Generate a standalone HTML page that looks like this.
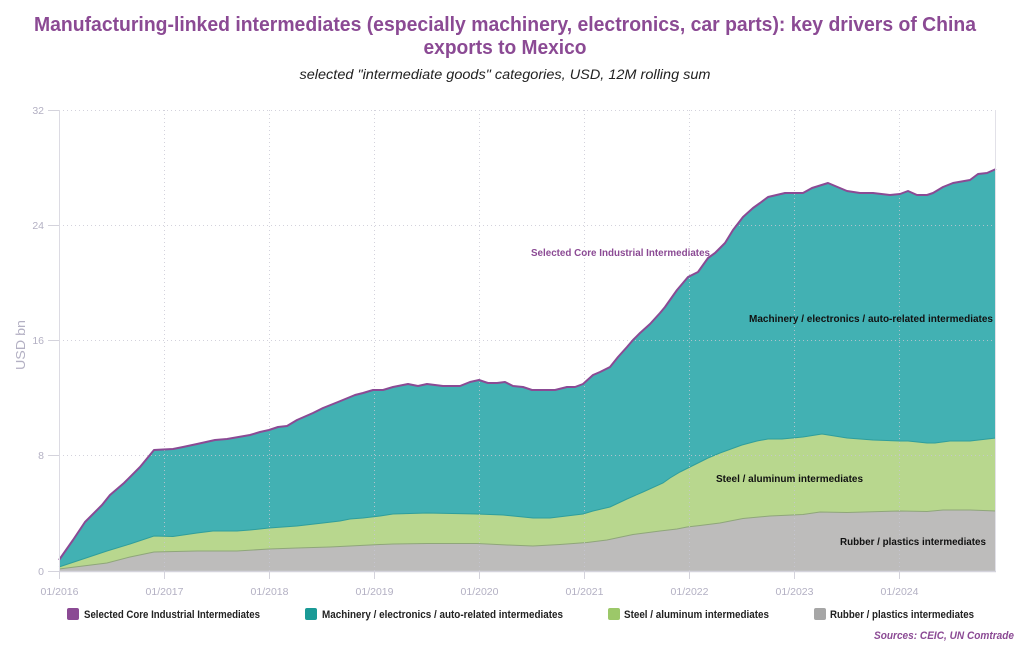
<!DOCTYPE html>
<html>
<head>
<meta charset="utf-8">
<style>
html,body{margin:0;padding:0;background:#fff;}
svg{display:block;}
text{font-family:"Liberation Sans",sans-serif;}
</style>
</head>
<body>
<svg width="1024" height="652" viewBox="0 0 1024 652" xmlns="http://www.w3.org/2000/svg">
<rect width="1024" height="652" fill="#fff"/>

<!-- Titles -->
<text x="505" y="31" text-anchor="middle" font-size="20" font-weight="bold" fill="#8b4a94" textLength="942" lengthAdjust="spacingAndGlyphs">Manufacturing-linked intermediates (especially machinery, electronics, car parts): key drivers of China</text>
<text x="505" y="54" text-anchor="middle" font-size="20" font-weight="bold" fill="#8b4a94" textLength="163" lengthAdjust="spacingAndGlyphs">exports to Mexico</text>
<text x="505" y="79" text-anchor="middle" font-size="14" font-style="italic" fill="#222" textLength="411" lengthAdjust="spacingAndGlyphs">selected "intermediate goods" categories, USD, 12M rolling sum</text>

<!-- Areas -->
<polygon fill="#42b1b3" points="59,560 73,540 85,522 102,505 110,495 124,483 140,467 154,450 163,449.5 173,449 183,447 197,444 215,440 227,439 250,435 260,432 269,430 278,427 287,426 297,420 313,413 323,408 338,402 355,395 363,393 373,390 383,390 393,387 408,384 418,386 427,384 443,386 460,386 470,382 479,380 488,383 497,383 505,382 513,386 523,387 532,390 555,390 567,387 575,387 583,384 593,375 600,372 610,367 618,357 627,347 633,340 640,333 650,324 660,313 665,307 677,290 688,277 698,272 708,258 715,253 725,243 733,230 743,217 753,208 760,203 768,197 785,193 803,193 812,188 828,183 847,191 860,193 873,193 890,195 900,194 908,191 917,195 927,195 933,193 943,187 953,183 970,180 978,174 987,173 996,169 996,571 59,571"/>
<polygon fill="#b8d78e" points="59,567 107,551 130,544 154,536 173,536.5 197,533 213,531 237,531 250,530 269,528 297,526 323,523 340,521 350,519 363,518 380,516 393,514 427,513 477,514 503,515 533,518 550,518 583,514 593,511 610,507 627,499 643,492 663,483 670,478 680,472 690,467 698,463 708,458 720,453 742,445 757,441 768,439 782,439 803,437 822,434 847,438 873,440 900,441 908,441 927,443 935,443 950,441 970,441 996,438 996,571 59,571"/>
<polygon fill="#bdbcbb" points="59,569 107,563 130,557 154,552 197,551 237,551 269,549 297,548 330,547 350,546 380,544.5 393,544 427,543.5 477,543.5 507,545 533,546 560,544.5 587,542.5 607,540 633,534.5 660,531 677,529 687,527 700,525.5 720,523 743,518.5 770,516 803,514.5 820,512 847,512.5 900,511 927,511.5 943,510 970,510 996,511 996,571 59,571"/>

<!-- Boundary lines -->
<polyline fill="none" stroke="#2f9e9c" stroke-width="1" points="59,567 107,551 130,544 154,536 173,536.5 197,533 213,531 237,531 250,530 269,528 297,526 323,523 340,521 350,519 363,518 380,516 393,514 427,513 477,514 503,515 533,518 550,518 583,514 593,511 610,507 627,499 643,492 663,483 670,478 680,472 690,467 698,463 708,458 720,453 742,445 757,441 768,439 782,439 803,437 822,434 847,438 873,440 900,441 908,441 927,443 935,443 950,441 970,441 996,438"/>
<polyline fill="none" stroke="#8fa67a" stroke-width="1" points="59,569 107,563 130,557 154,552 197,551 237,551 269,549 297,548 330,547 350,546 380,544.5 393,544 427,543.5 477,543.5 507,545 533,546 560,544.5 587,542.5 607,540 633,534.5 660,531 677,529 687,527 700,525.5 720,523 743,518.5 770,516 803,514.5 820,512 847,512.5 900,511 927,511.5 943,510 970,510 996,511"/>

<!-- Gridlines -->
<g stroke="#c9c8d4" stroke-width="1" stroke-dasharray="1,3" opacity="0.8">
<line x1="59" y1="110.5" x2="996" y2="110.5"/>
<line x1="59" y1="225.5" x2="996" y2="225.5"/>
<line x1="59" y1="340.5" x2="996" y2="340.5"/>
<line x1="59" y1="455.5" x2="996" y2="455.5"/>
<line x1="164.5" y1="110" x2="164.5" y2="571"/>
<line x1="269.5" y1="110" x2="269.5" y2="571"/>
<line x1="374.5" y1="110" x2="374.5" y2="571"/>
<line x1="479.5" y1="110" x2="479.5" y2="571"/>
<line x1="584.5" y1="110" x2="584.5" y2="571"/>
<line x1="689.5" y1="110" x2="689.5" y2="571"/>
<line x1="794.5" y1="110" x2="794.5" y2="571"/>
<line x1="899.5" y1="110" x2="899.5" y2="571"/>
</g>

<!-- Top line -->
<polyline fill="none" stroke="#8b4a94" stroke-width="2" stroke-linejoin="round" points="59,560 73,540 85,522 102,505 110,495 124,483 140,467 154,450 163,449.5 173,449 183,447 197,444 215,440 227,439 250,435 260,432 269,430 278,427 287,426 297,420 313,413 323,408 338,402 355,395 363,393 373,390 383,390 393,387 408,384 418,386 427,384 443,386 460,386 470,382 479,380 488,383 497,383 505,382 513,386 523,387 532,390 555,390 567,387 575,387 583,384 593,375 600,372 610,367 618,357 627,347 633,340 640,333 650,324 660,313 665,307 677,290 688,277 698,272 708,258 715,253 725,243 733,230 743,217 753,208 760,203 768,197 785,193 803,193 812,188 828,183 847,191 860,193 873,193 890,195 900,194 908,191 917,195 927,195 933,193 943,187 953,183 970,180 978,174 987,173 996,169"/>

<!-- Axes -->
<line x1="59.5" y1="110" x2="59.5" y2="571" stroke="#dcdbe3" stroke-width="1"/>
<line x1="995.5" y1="110" x2="995.5" y2="571" stroke="#e2e1e8" stroke-width="1"/>
<line x1="59" y1="571.5" x2="996" y2="571.5" stroke="#d4d3dc" stroke-width="1.5"/>
<g stroke="#d4d3dc" stroke-width="1">
<line x1="48" y1="110.5" x2="59" y2="110.5"/>
<line x1="48" y1="225.5" x2="59" y2="225.5"/>
<line x1="48" y1="340.5" x2="59" y2="340.5"/>
<line x1="48" y1="455.5" x2="59" y2="455.5"/>
<line x1="48" y1="571.5" x2="59" y2="571.5"/>
<line x1="59.5" y1="571" x2="59.5" y2="579"/>
<line x1="164.5" y1="571" x2="164.5" y2="579"/>
<line x1="269.5" y1="571" x2="269.5" y2="579"/>
<line x1="374.5" y1="571" x2="374.5" y2="579"/>
<line x1="479.5" y1="571" x2="479.5" y2="579"/>
<line x1="584.5" y1="571" x2="584.5" y2="579"/>
<line x1="689.5" y1="571" x2="689.5" y2="579"/>
<line x1="794.5" y1="571" x2="794.5" y2="579"/>
<line x1="899.5" y1="571" x2="899.5" y2="579"/>
</g>

<!-- Y labels -->
<g font-size="10.5" fill="#b3b0c3" text-anchor="end">
<text x="44" y="114">32</text>
<text x="44" y="229">24</text>
<text x="44" y="344">16</text>
<text x="44" y="459">8</text>
<text x="44" y="575">0</text>
</g>
<text transform="translate(25,345) rotate(-90)" text-anchor="middle" font-size="12.5" fill="#b3b0c3" textLength="50" lengthAdjust="spacingAndGlyphs">USD bn</text>

<!-- X labels -->
<g font-size="10.5" fill="#b3b0c3" text-anchor="middle">
<text x="59.5" y="595" textLength="38" lengthAdjust="spacingAndGlyphs">01/2016</text>
<text x="164.5" y="595" textLength="38" lengthAdjust="spacingAndGlyphs">01/2017</text>
<text x="269.5" y="595" textLength="38" lengthAdjust="spacingAndGlyphs">01/2018</text>
<text x="374.5" y="595" textLength="38" lengthAdjust="spacingAndGlyphs">01/2019</text>
<text x="479.5" y="595" textLength="38" lengthAdjust="spacingAndGlyphs">01/2020</text>
<text x="584.5" y="595" textLength="38" lengthAdjust="spacingAndGlyphs">01/2021</text>
<text x="689.5" y="595" textLength="38" lengthAdjust="spacingAndGlyphs">01/2022</text>
<text x="794.5" y="595" textLength="38" lengthAdjust="spacingAndGlyphs">01/2023</text>
<text x="899.5" y="595" textLength="38" lengthAdjust="spacingAndGlyphs">01/2024</text>
</g>

<!-- In-chart labels -->
<g font-size="10" font-weight="bold">
<text x="531" y="256" fill="#8b4a94" textLength="179" lengthAdjust="spacingAndGlyphs">Selected Core Industrial Intermediates</text>
<text x="749" y="322" fill="#111" textLength="244" lengthAdjust="spacingAndGlyphs">Machinery / electronics / auto-related intermediates</text>
<text x="716" y="482" fill="#111" textLength="147" lengthAdjust="spacingAndGlyphs">Steel / aluminum intermediates</text>
<text x="840" y="545" fill="#111" textLength="146" lengthAdjust="spacingAndGlyphs">Rubber / plastics intermediates</text>
</g>

<!-- Legend -->
<rect x="67" y="608" width="12" height="12" rx="2" fill="#8b4a94"/>
<rect x="305" y="608" width="12" height="12" rx="2" fill="#1a9a96"/>
<rect x="608" y="608" width="12" height="12" rx="2" fill="#9cc869"/>
<rect x="814" y="608" width="12" height="12" rx="2" fill="#a6a6a6"/>
<g font-size="11" font-weight="bold" fill="#222">
<text x="84" y="618" textLength="176" lengthAdjust="spacingAndGlyphs">Selected Core Industrial Intermediates</text>
<text x="322" y="618" textLength="241" lengthAdjust="spacingAndGlyphs">Machinery / electronics / auto-related intermediates</text>
<text x="624" y="618" textLength="145" lengthAdjust="spacingAndGlyphs">Steel / aluminum intermediates</text>
<text x="830" y="618" textLength="144" lengthAdjust="spacingAndGlyphs">Rubber / plastics intermediates</text>
</g>

<!-- Sources -->
<text x="874" y="639" font-size="11" font-weight="bold" font-style="italic" fill="#8b4a94" textLength="140" lengthAdjust="spacingAndGlyphs">Sources: CEIC, UN Comtrade</text>
</svg>
</body>
</html>
